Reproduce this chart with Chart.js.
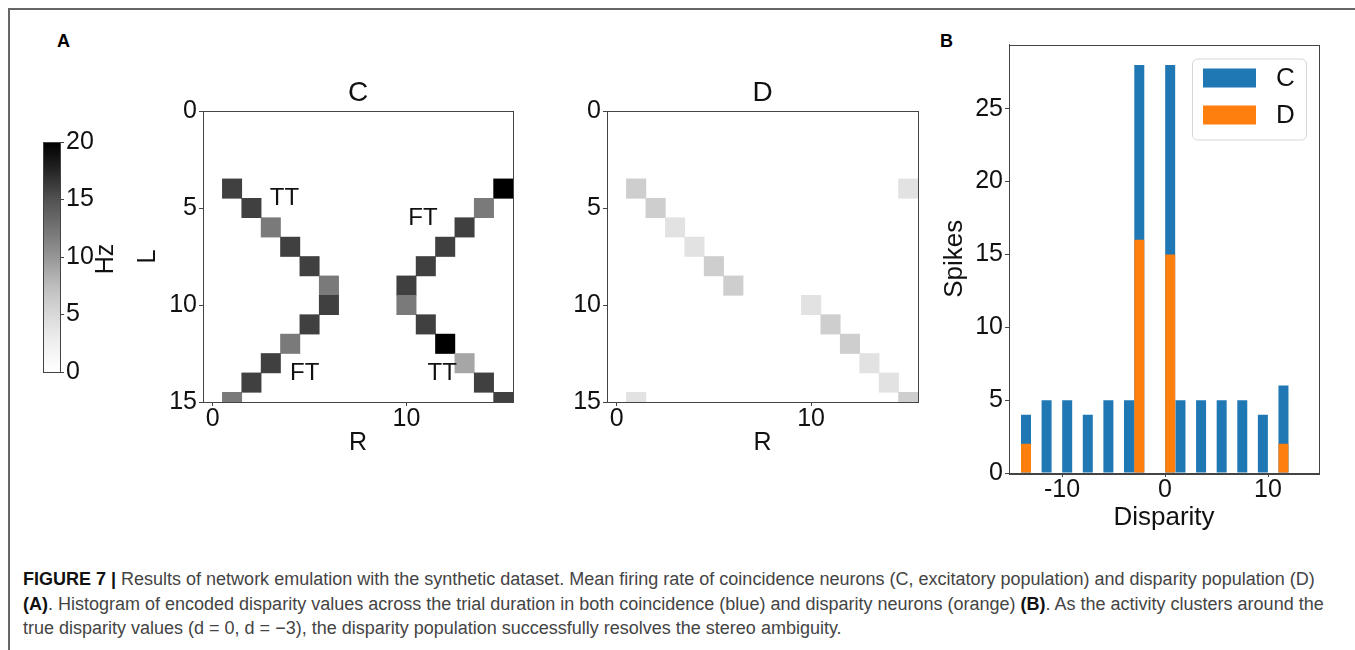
<!DOCTYPE html>
<html>
<head>
<meta charset="utf-8">
<script src="https://cdn.jsdelivr.net/npm/chart.js@4.4.0/dist/chart.umd.min.js"></script>
<style>
  html, body { margin: 0; padding: 0; background: #fff; }
  body { width: 1355px; height: 650px; position: relative; overflow: hidden; font-family: "Liberation Sans", Arial, sans-serif; }
  .frame { position: absolute; left: 8px; top: 8px; width: 1347px; height: 642px; border-top: 2px solid #666; border-left: 2px solid #666; box-sizing: border-box; }
  .panel { position: absolute; font-weight: bold; font-size: 18px; color: #000; }
  canvas { position: absolute; }
  .caption { position: absolute; left: 23px; top: 567px; font-size: 18px; line-height: 24.5px; color: #444; white-space: nowrap; }
  .caption b { color: #111; }
</style>
</head>
<body>
<div class="frame"></div>
<div class="panel" style="left:57px; top:31px;">A</div>
<div class="panel" style="left:940px; top:31px;">B</div>

<canvas id="colorbar" width="100" height="270" style="left:30px; top:120px;"></canvas>
<canvas id="heatC" width="395" height="386" style="left:135px; top:70px;"></canvas>
<canvas id="heatD" width="375" height="386" style="left:560px; top:70px;"></canvas>
<canvas id="hist" width="398" height="501" style="left:942px; top:30px;"></canvas>

<div class="caption">
  <div><b>FIGURE 7 |</b> Results of network emulation with the synthetic dataset. Mean firing rate of coincidence neurons (C, excitatory population) and disparity population (D)</div>
  <div><b>(A)</b>. Histogram of encoded disparity values across the trial duration in both coincidence (blue) and disparity neurons (orange) <b>(B)</b>. As the activity clusters around the</div>
  <div>true disparity values (d = 0, d = −3), the disparity population successfully resolves the stereo ambiguity.</div>
</div>

<script>
// heatmap C: column (R), row (L), mean rate (Hz)
const C_R  = [1, 2, 3, 4, 5, 6, 6, 5, 4, 3, 2, 1, 15, 14, 13, 12, 11, 10, 10, 11, 12, 13, 14, 15];
const C_L  = [4, 5, 6, 7, 8, 9, 10, 11, 12, 13, 14, 15, 4, 5, 6, 7, 8, 9, 10, 11, 12, 13, 14, 15];
const C_HZ = [16, 16, 12, 16, 16, 12, 16, 16, 12, 16, 16, 12, 20, 12, 16, 16, 16, 16, 12, 16, 20, 9, 16, 16];

// heatmap D
const D_R  = [1, 2, 3, 4, 5, 6, 15, 1, 10, 11, 12, 13, 14, 15];
const D_L  = [4, 5, 6, 7, 8, 9, 4, 15, 10, 11, 12, 13, 14, 15];
const D_HZ = [6, 6, 4, 4, 6, 6, 4, 4, 4, 6, 6, 4, 4, 6];

const HZ_MAX = 20;
const HZ_TICKS = [0, 5, 10, 15, 20];
const GRID_TICKS_R = [0, 10];
const GRID_TICKS_L = [0, 5, 10, 15];

// annotations on heatmap C
const C_NOTES = ['TT', 'FT', 'FT', 'TT'];
const C_NOTES_R = [3.7, 10.85, 4.75, 11.85];
const C_NOTES_L = [4.5, 5.55, 13.55, 13.55];

// histogram B
const DISPARITY = [-13.5, -11.5, -9.5, -7.5, -5.5, -3.5, -2.5, 0.5, 1.5, 3.5, 5.5, 7.5, 9.5, 11.5];
const SPIKES_C  = [4, 5, 5, 4, 5, 5, 28, 28, 5, 5, 5, 5, 4, 6];
const SPIKES_D  = [2, 0, 0, 0, 0, 0, 16, 15, 0, 0, 0, 0, 0, 2];
const DISP_TICKS = [-10, 0, 10];
const SPIKE_TICKS = [0, 5, 10, 15, 20, 25];

const BLUE = '#1f77b4';
const ORANGE = '#ff7f0e';
const AXIS = '#444';
const TEXT = '#111';
const FONT = '"Liberation Sans", Arial, sans-serif';

// matplotlib "Greys"
const GREYS = [255, 240, 217, 189, 150, 115, 82, 37, 0];

function greyFor(hz) {
	const t = Math.max(0, Math.min(1, hz / HZ_MAX)) * (GREYS.length - 1);
	const i = Math.min(Math.floor(t), GREYS.length - 2);
	const g = Math.round(GREYS[i] + (GREYS[i + 1] - GREYS[i]) * (t - i));
	return 'rgb(' + g + ',' + g + ',' + g + ')';
}

function fixedTicks(values) {
	return (scale) => { scale.ticks = values.map(v => ({ value: v })); };
}

const frameBox = {
	id: 'frameBox',
	afterDraw(chart) {
		const a = chart.chartArea;
		const ctx = chart.ctx;
		ctx.save();
		ctx.strokeStyle = AXIS;
		ctx.lineWidth = 1;
		ctx.strokeRect(Math.round(a.left) + 0.5, Math.round(a.top) + 0.5, Math.round(a.right - a.left), Math.round(a.bottom - a.top));
		ctx.restore();
	}
};

const noteLabels = {
	id: 'noteLabels',
	afterDatasetsDraw(chart, args, opts) {
		if (!opts.text) return;
		const ctx = chart.ctx;
		ctx.save();
		ctx.font = '24px ' + FONT;
		ctx.fillStyle = TEXT;
		ctx.textAlign = 'center';
		ctx.textBaseline = 'middle';
		opts.text.forEach((t, i) => {
			ctx.fillText(t, chart.scales.x.getPixelForValue(opts.x[i]), chart.scales.y.getPixelForValue(opts.y[i]));
		});
		ctx.restore();
	}
};

function tickFont(size) {
	return { family: FONT, size: size, lineHeight: 1 };
}

function heatmap(id, title, cols, rows, rates, yTitle, yWidth, notes) {
	const cells = cols.map((c, i) => ({ x: c, y: [rows[i] - 0.5, rows[i] + 0.5] }));
	return new Chart(document.getElementById(id), {
		type: 'bar',
		data: {
			datasets: [{
				data: cells,
				backgroundColor: rates.map(greyFor),
				borderWidth: 0,
				categoryPercentage: 1,
				barPercentage: 1,
				clip: 0
			}]
		},
		options: {
			responsive: false,
			animation: false,
			layout: { padding: { left: 0, right: 17, top: 0, bottom: 0 } },
			plugins: {
				legend: { display: false },
				tooltip: { enabled: false },
				title: {
					display: true,
					text: title,
					fullSize: false,
					color: TEXT,
					font: { family: FONT, size: 28, weight: 'normal', lineHeight: 1 },
					padding: { top: 9, bottom: 4 }
				},
				noteLabels: notes || {}
			},
			scales: {
				x: {
					type: 'linear',
					offset: false,
					min: -0.5,
					max: 15.5,
					afterBuildTicks: fixedTicks(GRID_TICKS_R),
					afterFit: (s) => { s.height = 54; },
					grid: { offset: false, drawOnChartArea: false, tickLength: 4, color: AXIS },
					border: { color: AXIS },
					ticks: { color: TEXT, font: tickFont(25), padding: 1, maxRotation: 0 },
					title: { display: true, text: 'R', color: TEXT, font: tickFont(25), padding: 0 }
				},
				y: {
					type: 'linear',
					reverse: true,
					min: 0,
					max: 15,
					afterBuildTicks: fixedTicks(GRID_TICKS_L),
					afterFit: (s) => { s.width = yWidth; },
					grid: { drawOnChartArea: false, tickLength: 4, color: AXIS },
					border: { color: AXIS },
					ticks: { color: TEXT, font: tickFont(25), padding: 2 },
					title: { display: !!yTitle, text: yTitle, color: TEXT, font: tickFont(26), padding: 0 }
				}
			}
		},
		plugins: [frameBox, noteLabels]
	});
}

// colour bar
new Chart(document.getElementById('colorbar'), {
	type: 'bar',
	data: {
		labels: ['Hz'],
		datasets: [{
			data: [[0, HZ_MAX]],
			backgroundColor: (ctx) => {
				const area = ctx.chart.chartArea;
				if (!area) return '#888';
				const g = ctx.chart.ctx.createLinearGradient(0, area.bottom, 0, area.top);
				GREYS.forEach((v, i) => g.addColorStop(i / (GREYS.length - 1), 'rgb(' + v + ',' + v + ',' + v + ')'));
				return g;
			},
			borderWidth: 0,
			categoryPercentage: 1,
			barPercentage: 1
		}]
	},
	options: {
		responsive: false,
		animation: false,
		layout: { padding: { left: 13, right: 0, top: 22, bottom: 18 } },
		plugins: { legend: { display: false }, tooltip: { enabled: false } },
		scales: {
			x: { display: false },
			y: {
				position: 'right',
				min: 0,
				max: HZ_MAX,
				afterBuildTicks: fixedTicks(HZ_TICKS),
				afterFit: (s) => { s.width = 70; },
				grid: { drawOnChartArea: false, tickLength: 4, color: AXIS },
				border: { color: AXIS },
				ticks: { color: TEXT, font: tickFont(25), padding: 2 }
			}
		}
	},
	plugins: [frameBox, {
		id: 'hzLabel',
		afterDraw(chart) {
			const ctx = chart.ctx;
			ctx.save();
			ctx.translate(76, 139);
			ctx.rotate(-Math.PI / 2);
			ctx.font = '25px ' + FONT;
			ctx.fillStyle = TEXT;
			ctx.textAlign = 'center';
			ctx.textBaseline = 'middle';
			ctx.fillText('Hz', 0, 0);
			ctx.restore();
		}
	}]
});

heatmap('heatC', 'C', C_R, C_L, C_HZ, 'L', 68, { text: C_NOTES, x: C_NOTES_R, y: C_NOTES_L });
heatmap('heatD', 'D', D_R, D_L, D_HZ, '', 47, null);

// legend drawn inside the plot, top right
const insideLegend = {
	id: 'insideLegend',
	afterDraw(chart) {
		const ctx = chart.ctx;
		const a = chart.chartArea;
		const w = 114, h = 81;
		const x0 = a.right - 13 - w, y0 = a.top + 14;
		ctx.save();
		ctx.beginPath();
		ctx.roundRect(x0 + 0.5, y0 + 0.5, w, h, 5);
		ctx.fillStyle = 'rgba(255,255,255,0.8)';
		ctx.fill();
		ctx.strokeStyle = '#d6d6d6';
		ctx.lineWidth = 1;
		ctx.stroke();
		ctx.font = '26px ' + FONT;
		ctx.textBaseline = 'middle';
		ctx.textAlign = 'left';
		chart.data.datasets.forEach((ds, i) => {
			const cy = y0 + 20 + i * 37;
			ctx.fillStyle = ds.backgroundColor;
			ctx.fillRect(x0 + 11, cy - 10, 53, 19);
			ctx.fillStyle = TEXT;
			ctx.fillText(ds.label, x0 + 84, cy);
		});
		ctx.restore();
	}
};

new Chart(document.getElementById('hist'), {
	type: 'bar',
	data: {
		datasets: [
			{ label: 'C', data: DISPARITY.map((d, i) => ({ x: d, y: SPIKES_C[i] })), backgroundColor: BLUE, order: 1 },
			{ label: 'D', data: DISPARITY.map((d, i) => ({ x: d, y: SPIKES_D[i] })), backgroundColor: ORANGE, order: 0 }
		]
	},
	options: {
		responsive: false,
		animation: false,
		layout: { padding: { left: 0, right: 21, top: 9, bottom: 0 } },
		datasets: { bar: { grouped: false, categoryPercentage: 0.97, barPercentage: 1, borderWidth: 0 } },
		plugins: { legend: { display: false }, tooltip: { enabled: false } },
		scales: {
			x: {
				type: 'linear',
				offset: false,
				min: -15.15,
				max: 14.95,
				afterBuildTicks: fixedTicks(DISP_TICKS),
				afterFit: (s) => { s.height = 58; },
				grid: { offset: false, drawOnChartArea: false, tickLength: 4, color: AXIS },
				border: { color: AXIS },
				ticks: { color: TEXT, font: tickFont(25), padding: 1, maxRotation: 0 },
				title: { display: true, text: 'Disparity', color: TEXT, font: tickFont(26), padding: 0 }
			},
			y: {
				min: 0,
				max: 29.4,
				afterBuildTicks: fixedTicks(SPIKE_TICKS),
				afterFit: (s) => { s.width = 67; },
				grid: { drawOnChartArea: false, tickLength: 4, color: AXIS },
				border: { color: AXIS },
				ticks: { color: TEXT, font: tickFont(25), padding: 2 },
				title: { display: true, text: 'Spikes', color: TEXT, font: tickFont(26), padding: 0 }
			}
		}
	},
	plugins: [frameBox, insideLegend]
});
</script>
</body>
</html>
